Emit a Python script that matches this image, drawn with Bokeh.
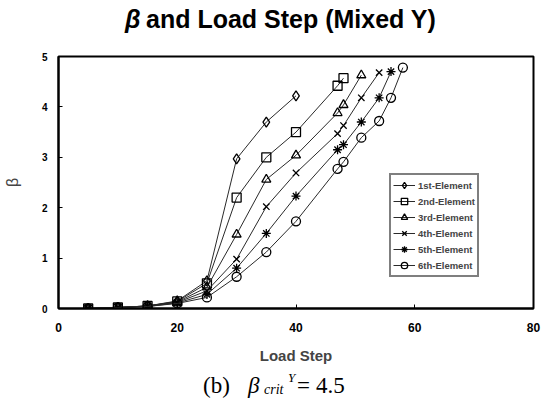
from bokeh.plotting import figure
from bokeh.models import Range1d, Legend, LegendItem, FixedTicker, Div
from bokeh.layouts import column
from bokeh.embed import file_html
from bokeh.resources import INLINE

# ---- data ----
series_names = ["1st-Element", "2nd-Element", "3rd-Element",
                "4th-Element", "5th-Element", "6th-Element"]

load_1 = [5, 10, 15, 20, 25, 30, 35, 40]
beta_1 = [0.0, 0.02, 0.05, 0.15, 0.55, 2.97, 3.70, 4.22]

load_2 = [5, 10, 15, 20, 25, 30, 35, 40, 47, 48]
beta_2 = [0.0, 0.02, 0.05, 0.14, 0.50, 2.20, 3.00, 3.50, 4.42, 4.57]

load_3 = [5, 10, 15, 20, 25, 30, 35, 40, 47, 48, 51]
beta_3 = [0.0, 0.02, 0.05, 0.13, 0.42, 1.47, 2.56, 3.04, 3.88, 4.04, 4.63]

load_4 = [5, 10, 15, 20, 25, 30, 35, 40, 47, 48, 51, 54]
beta_4 = [0.0, 0.02, 0.05, 0.12, 0.35, 0.98, 2.02, 2.69, 3.47, 3.63, 4.18, 4.68]

load_5 = [5, 10, 15, 20, 25, 30, 35, 40, 47, 48, 51, 54, 56]
beta_5 = [0.0, 0.02, 0.04, 0.11, 0.28, 0.80, 1.49, 2.23, 3.15, 3.25, 3.70, 4.18, 4.70]

load_6 = [5, 10, 15, 20, 25, 30, 35, 40, 47, 48, 51, 54, 56, 58]
beta_6 = [0.0, 0.02, 0.04, 0.10, 0.22, 0.63, 1.12, 1.73, 2.77, 2.91, 3.39, 3.72, 4.18, 4.78]

x_ticks = [0, 20, 40, 60, 80]
y_ticks = [0, 1, 2, 3, 4, 5]

loads = [load_1, load_2, load_3, load_4, load_5, load_6]
betas = [beta_1, beta_2, beta_3, beta_4, beta_5, beta_6]
markers = ["diamond", "square", "triangle", "x", "asterisk", "circle"]
marker_sizes = [10, 9, 9, 9, 9, 9]

W = 541
TITLE_H = 40
CAP_H = 30
PLOT_H = 398 - TITLE_H - CAP_H

p = figure(width=W, height=PLOT_H, output_backend="svg", toolbar_location=None,
           x_range=Range1d(0, 80), y_range=Range1d(0, 5),
           min_border_left=57, min_border_right=8,
           min_border_top=16, min_border_bottom=60)
p.title.visible = False
p.background_fill_color = "white"
p.border_fill_color = "white"
p.xgrid.visible = False
p.ygrid.visible = False
p.outline_line_color = "black"
p.outline_line_width = 2
p.outline_line_alpha = 1

p.xaxis.ticker = FixedTicker(ticks=x_ticks)
p.yaxis.ticker = FixedTicker(ticks=y_ticks)
for ax in (p.xaxis, p.yaxis):
    ax.axis_line_color = "black"
    ax.axis_line_width = 2
    ax.major_tick_in = 4
    ax.major_tick_out = 0
    ax.minor_tick_in = 0
    ax.minor_tick_out = 0
    ax.major_tick_line_color = "black"
    ax.major_label_text_font = "Liberation Sans"
    ax.major_label_text_font_style = "bold"
    ax.major_label_text_color = "black"
p.xaxis.major_label_text_font_size = "12px"
p.yaxis.major_label_text_font_size = "10px"
p.xaxis.major_label_standoff = 14
p.yaxis.major_label_standoff = 11

p.xaxis.axis_label = "Load Step"
p.xaxis.axis_label_text_font = "Liberation Sans"
p.xaxis.axis_label_text_font_style = "bold"
p.xaxis.axis_label_text_font_size = "15px"
p.xaxis.axis_label_standoff = 12
p.yaxis.axis_label = "β"
p.yaxis.axis_label_text_font = "Liberation Sans"
p.yaxis.axis_label_text_font_style = "normal"
p.yaxis.axis_label_text_font_size = "16px"
p.yaxis.axis_label_standoff = 18

items = []
for name, xs, ys, mk, ms in zip(series_names, loads, betas, markers, marker_sizes):
    ln = p.line(xs, ys, line_color="#2a2a2a", line_width=1)
    sc = p.scatter(xs, ys, marker=mk, size=ms, fill_color=None,
                   line_color="black", line_width=1.3)
    items.append(LegendItem(label=name, renderers=[ln, sc]))

legend = Legend(items=items, location=(331, 31))
legend.label_text_font = "Liberation Sans"
legend.label_text_font_style = "bold"
legend.label_text_font_size = "9.5px"
legend.glyph_width = 22
legend.glyph_height = 16
legend.label_height = 16
legend.label_standoff = 3
legend.spacing = 0
legend.padding = 2
legend.margin = 0
legend.border_line_color = "black"
legend.border_line_width = 2
legend.background_fill_color = "white"
legend.background_fill_alpha = 1
p.add_layout(legend)

# ---- title ----
title_html = (
    '<div style="position:relative;width:541px;height:40px;'
    'font-family:\'Liberation Sans\';font-weight:bold;color:black;">'
    '<span style="position:absolute;left:125px;top:7px;font-size:25px;'
    'line-height:25px;font-style:italic;white-space:nowrap;">β</span>'
    '<span style="position:absolute;left:146px;top:7px;font-size:25px;'
    'line-height:25px;white-space:nowrap;">and Load Step (Mixed Y)</span>'
    '</div>'
)
title_div = Div(text=title_html, width=W, height=TITLE_H, margin=0)

# ---- caption ----
def span(left, top, size, text, italic=False):
    st = "italic" if italic else "normal"
    return (f'<span style="position:absolute;left:{left}px;top:{top}px;'
            f'font-size:{size}px;line-height:{size}px;font-style:{st};'
            f'white-space:nowrap;">{text}</span>')

cap_html = (
    '<div style="position:relative;width:541px;height:30px;'
    'font-family:\'Liberation Serif\';color:black;">'
    + span(203, 6, 23, "(b)")
    + span(248, 6, 23, "β", True)
    + span(264, 15, 14, "crit", True)
    + span(288, 3, 13, "Y", True)
    + span(297, 6, 23, "=")
    + span(316, 6, 23, "4.5")
    + '</div>'
)
cap_div = Div(text=cap_html, width=W, height=CAP_H, margin=0)

layout = column(title_div, p, cap_div, spacing=0)
open("out.html", "w").write(file_html(layout, INLINE))
